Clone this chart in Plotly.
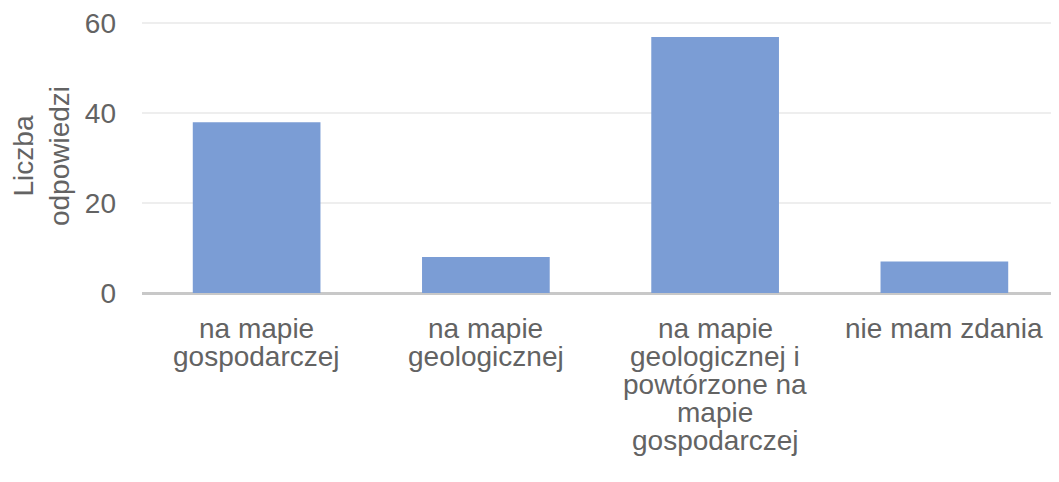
import plotly.graph_objects as go

categories = [
    "na mapie<br>gospodarczej",
    "na mapie<br>geologicznej",
    "na mapie<br>geologicznej i<br>powtórzone na<br>mapie<br>gospodarczej",
    "nie mam zdania",
]
values = [38, 8, 57, 7]
y_ticks = [0, 20, 40, 60]

FONT = "Liberation Sans, Arial, sans-serif"
TXT = "#636363"
FS = 28
LINE_PITCH = 28

fig = go.Figure(
    go.Bar(x=categories, y=values, marker=dict(color="#7b9dd5", line=dict(width=0)))
)

# category labels, drawn line by line for Excel-like line spacing
for cat in categories:
    for i, line in enumerate(cat.split("<br>")):
        fig.add_annotation(
            x=cat, y=0, xref="x", yref="y",
            text=line, showarrow=False,
            xanchor="center", yanchor="top",
            yshift=-18 - i * LINE_PITCH,
            font=dict(family=FONT, size=FS, color=TXT),
        )

fig.update_layout(
    width=1059,
    height=482,
    margin=dict(l=134, r=8, t=10.5, b=197, autoexpand=False),
    paper_bgcolor="white",
    plot_bgcolor="white",
    bargap=0.443,
    showlegend=False,
    font=dict(family=FONT, size=FS, color=TXT),
)
fig.update_xaxes(
    showgrid=False,
    showline=False,
    ticks="",
    showticklabels=False,
    automargin=False,
)
fig.update_yaxes(
    range=[0, 61],
    tickvals=y_ticks,
    showgrid=True,
    gridcolor="#eeeeee",
    gridwidth=1.5,
    zeroline=True,
    zerolinecolor="#c8c8c8",
    zerolinewidth=3,
    showline=False,
    ticks="",
    ticklabelstandoff=25,
    ticklabeloverflow="allow",
    tickfont=dict(size=FS, color=TXT),
    automargin=False,
    title=dict(text="Liczba<br>odpowiedzi", font=dict(size=FS, color=TXT), standoff=8),
)
fig.write_html("out.html")
